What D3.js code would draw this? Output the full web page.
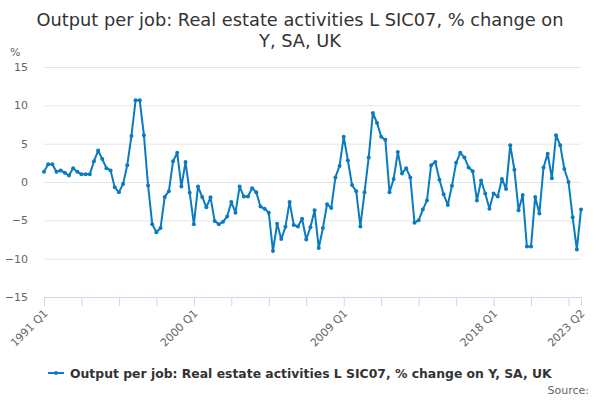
<!DOCTYPE html>
<html>
<head>
<meta charset="utf-8">
<script src="https://cdn.jsdelivr.net/npm/d3@7"></script>
<style>
  body { margin: 0; background: #fff; }
  text { font-family: "DejaVu Sans", sans-serif; }
</style>
</head>
<body>
<div id="chart"></div>
<script>
// series values, 1991 Q1 .. 2023 Q2
const startYear = 1991;
const values = [
  1.35, 2.3, 2.3, 1.35, 1.5, 1.2, 0.85, 1.8, 1.35, 1.0, 1.0, 1.0,
  2.7, 4.1, 3.0, 1.8, 1.5, -0.7, -1.35, -0.25, 2.2, 6.0, 10.65, 10.65,
  6.1, -0.45, -5.5, -6.55, -6.0, -1.95, -1.2, 2.7, 3.8, -0.6, 2.6, -1.4,
  -5.5, -0.6, -1.95, -3.3, -2.0, -5.1, -5.5, -5.2, -4.5, -2.6, -4.0, -0.6,
  -1.9, -1.9, -0.8, -1.35, -3.2, -3.5, -4.0, -9.0, -5.45, -7.45, -5.85, -2.6,
  -5.6, -5.8, -4.8, -7.5, -5.9, -3.7, -8.6, -6.0, -2.9, -3.4, 0.6, 2.1,
  5.9, 2.8, -0.4, -1.2, -5.8, -1.35, 3.2, 9.0, 7.7, 5.9, 5.5, -1.35,
  0.4, 3.9, 1.1, 1.8, 0.6, -5.3, -5.0, -3.6, -2.4, 2.2, 2.6, 0.3,
  -1.6, -3.0, -0.5, 2.5, 3.8, 3.2, 1.9, 1.4, -2.4, 0.2, -1.5, -3.5,
  -1.5, -1.9, 0.4, -0.9, 4.8, 1.6, -3.7, -1.7, -8.4, -8.4, -1.95, -4.1,
  1.9, 3.7, 0.5, 6.1, 4.8, 1.7, 0.0, -4.6, -8.8, -3.6
];
const quarters = values.map((v, i) => `${startYear + Math.floor(i / 4)} Q${(i % 4) + 1}`);
const yTicks = [-15, -10, -5, 0, 5, 10, 15];
const xLabels = ["1991 Q1", "2000 Q1", "2009 Q1", "2018 Q1", "2023 Q2"];

const title = ["Output per job: Real estate activities L SIC07, % change on", "Y, SA, UK"];
const seriesName = "Output per job: Real estate activities L SIC07, % change on Y, SA, UK";

const width = 600, height = 400;
const margin = { top: 67, right: 19, bottom: 103, left: 44 };
const plotW = width - margin.left - margin.right;
const plotH = height - margin.top - margin.bottom;
const blue = "#0b7bc0";

const svg = d3.select("#chart").append("svg")
  .attr("width", width)
  .attr("height", height);

// titulo
svg.append("text")
  .attr("x", width / 2)
  .attr("y", 26)
  .attr("text-anchor", "middle")
  .style("font-size", "17.8px")
  .style("fill", "#333")
  .selectAll("tspan")
  .data(title)
  .join("tspan")
  .attr("x", width / 2)
  .attr("dy", (d, i) => i === 0 ? 0 : 21)
  .text(d => d);

const chart = svg.append("g")
  .attr("transform", `translate(${margin.left}, ${margin.top})`);

const x = d3.scaleLinear()
  .domain([0, values.length - 1])
  .range([0, plotW]);

const y = d3.scaleLinear()
  .domain([-15, 15])
  .range([plotH, 0]);

// grid + y labels
chart.append("g")
  .call(d3.axisLeft(y).tickValues(yTicks).tickSize(-plotW).tickPadding(16))
  .call(g => g.select(".domain").remove())
  .call(g => g.selectAll(".tick line").attr("stroke", "#e6e6e6"))
  .call(g => g.selectAll(".tick text")
    .style("font-size", "11px")
    .style("fill", "#666")
    .attr("font-family", null));

svg.append("text")
  .attr("x", 10)
  .attr("y", 56)
  .style("font-size", "11px")
  .style("fill", "#666")
  .text("%");

// x axis
const tickIdx = d3.range(0, values.length, 9).concat([values.length - 1]);
const xAxis = chart.append("g")
  .attr("transform", `translate(0, ${plotH})`)
  .call(d3.axisBottom(x).tickValues(tickIdx).tickSize(9).tickSizeOuter(0)
    .tickFormat(i => xLabels.includes(quarters[i]) ? quarters[i] : ""));

xAxis.select(".domain").attr("stroke", "#ccd6eb");
xAxis.selectAll(".tick line").attr("stroke", "#ccd6eb");
xAxis.selectAll(".tick text")
  .attr("font-family", null)
  .style("font-size", "11px")
  .style("fill", "#666")
  .attr("text-anchor", "end")
  .attr("dy", null)
  .attr("y", 0)
  .attr("transform", "translate(4, 17) rotate(-45)");

// linha
const line = d3.line()
  .x((d, i) => x(i))
  .y(d => y(d));

chart.append("path")
  .datum(values)
  .attr("fill", "none")
  .attr("stroke", blue)
  .attr("stroke-width", 2)
  .attr("stroke-linejoin", "round")
  .attr("d", line);

chart.selectAll(".dot")
  .data(values)
  .join("circle")
  .attr("class", "dot")
  .attr("cx", (d, i) => x(i))
  .attr("cy", d => y(d))
  .attr("r", 2)
  .attr("fill", blue);

// legenda
const legend = svg.append("g").attr("transform", "translate(48, 373)");
legend.append("line")
  .attr("x1", 0).attr("x2", 16)
  .attr("stroke", blue).attr("stroke-width", 2);
legend.append("circle")
  .attr("cx", 8).attr("r", 2).attr("fill", blue);
legend.append("text")
  .attr("x", 22)
  .attr("y", 5)
  .style("font-size", "12.4px")
  .style("font-weight", "bold")
  .style("fill", "#333")
  .text(seriesName);

svg.append("text")
  .attr("x", 589)
  .attr("y", 394)
  .attr("text-anchor", "end")
  .style("font-size", "11px")
  .style("fill", "#666")
  .text("Source:");
</script>
</body>
</html>
